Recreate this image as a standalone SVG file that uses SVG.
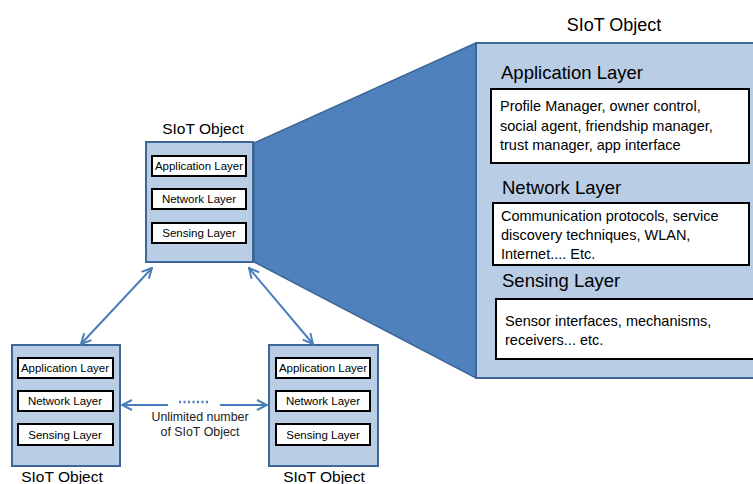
<svg xmlns="http://www.w3.org/2000/svg" width="753" height="484" viewBox="0 0 753 484">
<defs>
<style>
text{font-family:"Liberation Sans",Arial,sans-serif;fill:#000}
.obj{fill:#b9cde5;stroke:#3d6796;stroke-width:2}
.layer{fill:#fff;stroke:#000;stroke-width:2}
.small{font-size:11.5px;text-anchor:middle}
.title{font-size:15.5px;text-anchor:middle}
.head{font-size:18.5px}
.body{font-size:14.5px}
.conn{stroke:#4a7ebb;stroke-width:2;fill:none}
.note{font-size:12.4px;text-anchor:middle;fill:#222}
</style>
<marker id="ah" viewBox="0 0 12 12" refX="11" refY="6" markerWidth="12" markerHeight="12" markerUnits="userSpaceOnUse" orient="auto-start-reverse">
<path d="M1,1 L11,6 L1,11" fill="none" stroke="#4a7ebb" stroke-width="2"/>
</marker>
</defs>
<rect width="753" height="484" fill="#fff"/>

<g id="zoom-trapezoid">
<polygon points="254,143 476,43 476,378 254,262" fill="#4f81bd" stroke="#3d6796" stroke-width="1.5"/>
</g>

<g id="node-top">
<text class="title" x="203" y="134">SIoT Object</text>
<rect class="obj" x="146" y="142" width="107" height="120"/>
<rect class="layer" x="152" y="156" width="94" height="20"/>
<text class="small" x="199" y="170">Application Layer</text>
<rect class="layer" x="152" y="189" width="94" height="20"/>
<text class="small" x="199" y="203">Network Layer</text>
<rect class="layer" x="152" y="223" width="94" height="20"/>
<text class="small" x="199" y="237">Sensing Layer</text>
</g>

<g id="node-left">
<rect class="obj" x="12" y="345" width="108" height="121"/>
<rect class="layer" x="18" y="358" width="95" height="20"/>
<text class="small" x="65" y="372">Application Layer</text>
<rect class="layer" x="18" y="391" width="95" height="20"/>
<text class="small" x="65" y="405">Network Layer</text>
<rect class="layer" x="18" y="424" width="95" height="21"/>
<text class="small" x="65" y="439">Sensing Layer</text>
<text class="title" x="62" y="482">SIoT Object</text>
</g>

<g id="node-right">
<rect class="obj" x="269" y="345" width="109" height="121"/>
<rect class="layer" x="276" y="358" width="94" height="20"/>
<text class="small" x="323" y="372">Application Layer</text>
<rect class="layer" x="276" y="391" width="94" height="20"/>
<text class="small" x="323" y="405">Network Layer</text>
<rect class="layer" x="276" y="424" width="94" height="21"/>
<text class="small" x="323" y="439">Sensing Layer</text>
<text class="title" x="324" y="482">SIoT Object</text>
</g>

<g id="node-detail">
<text class="title" style="font-size:18px" x="614" y="31">SIoT Object</text>
<rect class="obj" x="476" y="43" width="280" height="335"/>
<text class="head" x="501" y="79">Application Layer</text>
<rect class="layer" x="491" y="89" width="258" height="74"/>
<text class="body" x="500" y="111">Profile Manager, owner control,</text>
<text class="body" x="500" y="131">social agent, friendship manager,</text>
<text class="body" x="500" y="150">trust manager, app interface</text>
<text class="head" x="502" y="194">Network Layer</text>
<rect class="layer" x="493" y="203" width="256" height="62"/>
<text class="body" x="501" y="221">Communication protocols, service</text>
<text class="body" x="501" y="240">discovery techniques, WLAN,</text>
<text class="body" x="501" y="259">Internet.... Etc.</text>
<text class="head" x="502" y="287">Sensing Layer</text>
<rect class="layer" x="496" y="299" width="262" height="60"/>
<text class="body" x="505" y="326">Sensor interfaces, mechanisms,</text>
<text class="body" x="505" y="345">receivers... etc.</text>
</g>

<g id="connectors">
<line class="conn" x1="152" y1="268" x2="81" y2="344" marker-start="url(#ah)" marker-end="url(#ah)"/>
<line class="conn" x1="249" y1="268" x2="313" y2="344" marker-start="url(#ah)" marker-end="url(#ah)"/>
<line class="conn" x1="168" y1="405" x2="122" y2="405" marker-end="url(#ah)"/>
<line class="conn" x1="220" y1="405" x2="267" y2="405" marker-end="url(#ah)"/>
<line x1="179" y1="402" x2="210" y2="402" stroke="#4a7ebb" stroke-width="2.5" stroke-dasharray="2,2.5"/>
<text class="note" x="200" y="421">Unlimited number</text>
<text class="note" x="200" y="436">of SIoT Object</text>
</g>
</svg>
